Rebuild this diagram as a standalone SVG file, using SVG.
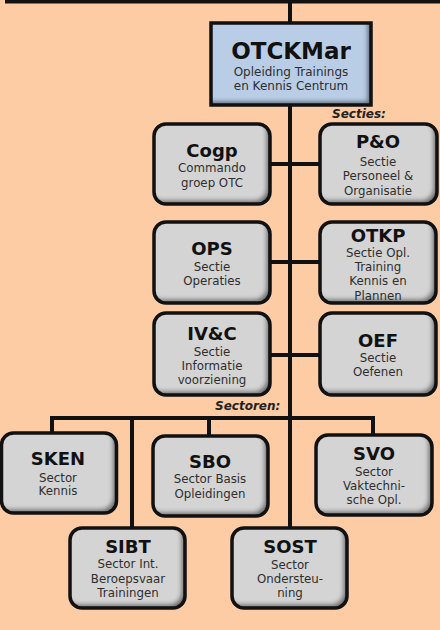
<svg xmlns="http://www.w3.org/2000/svg" width="440" height="630" viewBox="0 0 440 630">
<style>
.bg{fill:#fdcca5}
.ln{stroke:#111;stroke-width:4;fill:none}
.box{fill:#d4d4d4}
.bd{fill:none;stroke:#111;stroke-width:3.5}
.t{font-family:"DejaVu Sans",Verdana,sans-serif;font-weight:bold;font-size:18px;fill:#111;text-anchor:middle}
.s{font-family:"DejaVu Sans",Verdana,sans-serif;font-size:11.8px;fill:#2e2e2e;text-anchor:middle}
.h{font-family:"DejaVu Sans",Verdana,sans-serif;font-weight:bold;font-style:italic;font-size:12px;fill:#222}
</style>
<defs>
<filter id="inset" x="-5%" y="-5%" width="110%" height="110%">
<feOffset in="SourceAlpha" dx="-4" dy="-4" result="off"/>
<feGaussianBlur in="off" stdDeviation="2.2" result="blur"/>
<feComposite in="SourceAlpha" in2="blur" operator="out" result="inv"/>
<feFlood flood-color="#000" flood-opacity="0.75"/>
<feComposite in2="inv" operator="in" result="sh"/>
<feMerge><feMergeNode in="SourceGraphic"/><feMergeNode in="sh"/></feMerge>
</filter>
</defs>
<rect class="bg" x="0" y="0" width="440" height="630"/>
<g id="connectors">
<line class="ln" x1="5" y1="1.5" x2="440" y2="1.5"/>
<line class="ln" x1="290" y1="0" x2="290" y2="528"/>
<line class="ln" x1="270" y1="164" x2="320" y2="164"/>
<line class="ln" x1="270" y1="262" x2="320" y2="262"/>
<line class="ln" x1="270" y1="355" x2="320" y2="355"/>
<line class="ln" x1="50" y1="418" x2="375" y2="418"/>
<line class="ln" x1="52" y1="416" x2="52" y2="433"/>
<line class="ln" x1="132" y1="416" x2="132" y2="528"/>
<line class="ln" x1="209" y1="416" x2="209" y2="436"/>
<line class="ln" x1="373" y1="416" x2="373" y2="435"/>
</g>
<g id="otckmar">
<rect x="211" y="23" width="160" height="82" fill="#b9cde6" filter="url(#inset)"/>
<rect class="bd" x="211" y="23" width="160" height="82"/>
<text class="t" x="291" y="59" style="font-size:23px">OTCKMar</text>
<text class="s" x="291" y="76" style="font-size:12px">Opleiding Trainings</text>
<text class="s" x="291" y="90" style="font-size:12px">en Kennis Centrum</text>
</g>
<text class="h" x="332" y="118">Secties:</text>
<g id="cogp">
<rect class="box" x="154" y="124" width="116" height="80" rx="12" filter="url(#inset)"/>
<rect class="bd" x="154" y="124" width="116" height="80" rx="12"/>
<text class="t" x="212" y="157">Cogp</text>
<text class="s" x="212" y="172">Commando</text>
<text class="s" x="212" y="187">groep OTC</text>
</g>
<g id="po">
<rect class="box" x="320" y="124" width="117" height="80" rx="12" filter="url(#inset)"/>
<rect class="bd" x="320" y="124" width="117" height="80" rx="12"/>
<text class="t" x="378" y="148">P&amp;O</text>
<text class="s" x="378" y="166">Sectie</text>
<text class="s" x="378" y="180">Personeel &amp;</text>
<text class="s" x="378" y="195">Organisatie</text>
</g>
<g id="ops">
<rect class="box" x="154" y="222" width="116" height="81" rx="12" filter="url(#inset)"/>
<rect class="bd" x="154" y="222" width="116" height="81" rx="12"/>
<text class="t" x="212" y="255">OPS</text>
<text class="s" x="212" y="271">Sectie</text>
<text class="s" x="212" y="285">Operaties</text>
</g>
<g id="otkp">
<rect class="box" x="320" y="222" width="116" height="81" rx="12" filter="url(#inset)"/>
<text class="t" x="378" y="242">OTKP</text>
<text class="s" x="378" y="257">Sectie Opl.</text>
<text class="s" x="378" y="271">Training</text>
<text class="s" x="378" y="285">Kennis en</text>
<text class="s" x="378" y="300">Plannen</text>
<rect class="bd" x="320" y="222" width="116" height="81" rx="12"/>
</g>
<g id="ivc">
<rect class="box" x="154" y="313" width="116" height="82" rx="12" filter="url(#inset)"/>
<rect class="bd" x="154" y="313" width="116" height="82" rx="12"/>
<text class="t" x="212" y="340">IV&amp;C</text>
<text class="s" x="212" y="356">Sectie</text>
<text class="s" x="212" y="370">Informatie</text>
<text class="s" x="212" y="384">voorziening</text>
</g>
<g id="oef">
<rect class="box" x="320" y="313" width="116" height="82" rx="12" filter="url(#inset)"/>
<rect class="bd" x="320" y="313" width="116" height="82" rx="12"/>
<text class="t" x="378" y="347">OEF</text>
<text class="s" x="378" y="362">Sectie</text>
<text class="s" x="378" y="376">Oefenen</text>
</g>
<text class="h" x="215" y="410">Sectoren:</text>
<g id="sken">
<rect class="box" x="1.5" y="433" width="115" height="80" rx="12" filter="url(#inset)"/>
<rect class="bd" x="1.5" y="433" width="115" height="80" rx="12"/>
<text class="t" x="58" y="465">SKEN</text>
<text class="s" x="58" y="482">Sector</text>
<text class="s" x="58" y="495">Kennis</text>
</g>
<g id="sbo">
<rect class="box" x="153" y="436" width="115" height="80" rx="12" filter="url(#inset)"/>
<rect class="bd" x="153" y="436" width="115" height="80" rx="12"/>
<text class="t" x="210" y="468">SBO</text>
<text class="s" x="210" y="483">Sector Basis</text>
<text class="s" x="210" y="498">Opleidingen</text>
</g>
<g id="svo">
<rect class="box" x="316" y="435" width="116" height="80" rx="12" filter="url(#inset)"/>
<rect class="bd" x="316" y="435" width="116" height="80" rx="12"/>
<text class="t" x="374" y="460">SVO</text>
<text class="s" x="374" y="476">Sector</text>
<text class="s" x="374" y="490">Vaktechni-</text>
<text class="s" x="374" y="504">sche Opl.</text>
</g>
<g id="sibt">
<rect class="box" x="70" y="528" width="115" height="80" rx="12" filter="url(#inset)"/>
<rect class="bd" x="70" y="528" width="115" height="80" rx="12"/>
<text class="t" x="128" y="553">SIBT</text>
<text class="s" x="128" y="568">Sector Int.</text>
<text class="s" x="128" y="583">Beroepsvaar</text>
<text class="s" x="128" y="597">Trainingen</text>
</g>
<g id="sost">
<rect class="box" x="232" y="528" width="115" height="80" rx="12" filter="url(#inset)"/>
<rect class="bd" x="232" y="528" width="115" height="80" rx="12"/>
<text class="t" x="290" y="553">SOST</text>
<text class="s" x="290" y="569">Sector</text>
<text class="s" x="290" y="583">Ondersteu-</text>
<text class="s" x="290" y="597">ning</text>
</g>
</svg>
